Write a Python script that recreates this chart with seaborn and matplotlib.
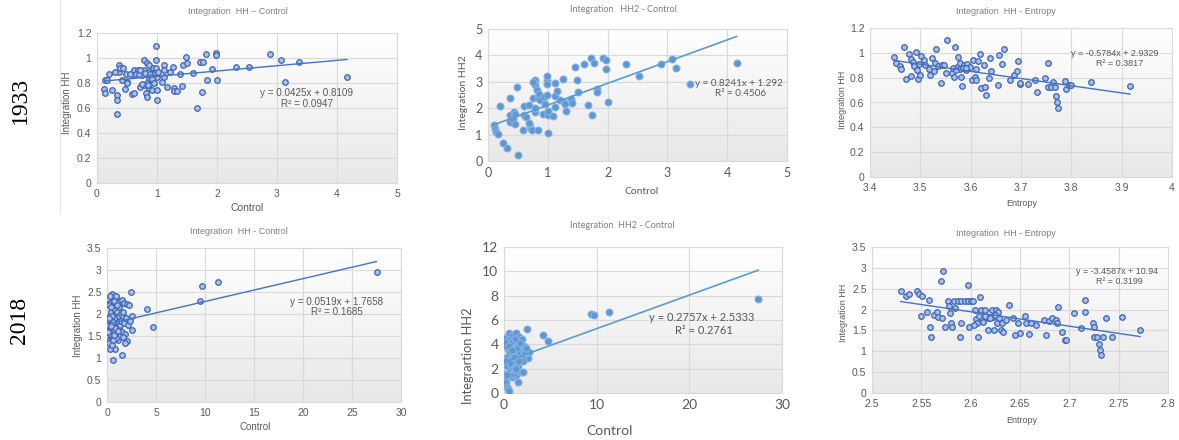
import numpy as np
import matplotlib
matplotlib.use("Agg")
import matplotlib.pyplot as plt
from matplotlib.colors import LinearSegmentedColormap
from matplotlib.ticker import FuncFormatter, MultipleLocator
import seaborn as sns

# ---------------- data ----------------
# 1933 : Integration HH vs Control
p1_control = [0.99, 0.13, 0.12, 0.13, 0.17, 0.20, 0.25, 0.33, 0.33, 0.34, 0.37, 0.37, 0.38, 0.42, 0.44,
              0.46, 0.49, 0.50, 0.59, 0.62, 0.61, 0.61, 0.69, 0.71, 0.75, 0.78, 0.79, 0.79, 0.82, 0.83,
              0.83, 0.86, 0.86, 0.86, 0.83, 0.86, 0.91, 0.94, 0.95, 0.99, 0.99, 1.00, 1.00, 1.00, 1.08,
              1.11, 1.11, 1.12, 1.16, 1.21, 1.27, 1.28, 1.29, 1.33, 1.38, 1.42, 1.44, 1.48, 1.50, 1.60,
              1.67, 1.72, 1.76, 1.75, 1.81, 1.84, 1.92, 1.99, 1.99, 2.00, 2.31, 2.53, 2.89, 3.07, 3.14,
              3.36, 4.17, 0.65, 0.70, 0.72, 0.80, 0.88, 0.90, 0.92, 0.95, 0.85, 0.75, 0.98, 1.02, 0.55,
              0.50, 0.30]
p1_hh = [1.098, 0.82, 0.75, 0.72, 0.825, 0.87, 0.74, 0.70, 0.66, 0.55, 0.945, 0.89, 0.92, 0.825, 0.92,
         0.75, 0.87, 0.81, 0.71, 0.72, 0.905, 0.865, 0.905, 0.77, 0.865, 0.905, 0.985, 0.785, 0.72, 0.685,
         0.96, 0.945, 0.89, 0.83, 0.80, 0.76, 0.74, 0.92, 0.88, 0.98, 0.90, 0.845, 0.745, 0.66, 0.81,
         0.945, 0.905, 0.845, 0.765, 0.885, 0.925, 0.76, 0.735, 0.735, 0.87, 0.775, 0.945, 1.01, 0.96, 0.88,
         0.60, 0.97, 0.97, 0.725, 1.035, 0.825, 0.91, 1.04, 1.02, 0.82, 0.925, 0.925, 1.035, 0.98, 0.805,
         0.965, 0.845, 0.87, 0.87, 0.90, 0.88, 0.87, 0.85, 0.83, 0.80, 0.78, 0.79, 0.92, 0.89, 0.87,
         0.80, 0.89]
p1_slope, p1_intercept = 0.0425, 0.8109

# 1933 : Integration HH2 vs Control
p2_control = [0.10, 0.11, 0.14, 0.16, 0.20, 0.25, 0.32, 0.36, 0.36, 0.36, 0.42, 0.44, 0.45, 0.45, 0.49,
              0.50, 0.58, 0.61, 0.61, 0.63, 0.69, 0.70, 0.72, 0.74, 0.69, 0.75, 0.78, 0.78, 0.75, 0.78,
              0.78, 0.82, 0.84, 0.85, 0.83, 0.87, 0.92, 0.93, 0.95, 0.98, 0.99, 0.99, 0.99, 1.00, 1.00,
              1.00, 1.09, 1.12, 1.12, 1.12, 1.16, 1.20, 1.26, 1.27, 1.29, 1.31, 1.39, 1.41, 1.46, 1.48,
              1.50, 1.60, 1.67, 1.72, 1.74, 1.77, 1.82, 1.83, 1.93, 1.98, 1.98, 2.00, 2.31, 2.52, 2.89,
              3.07, 3.14, 3.37, 4.16]
p2_hh2 = [1.38, 1.23, 1.10, 1.04, 2.09, 0.70, 0.51, 2.40, 1.76, 1.48, 1.59, 1.87, 1.78, 1.40, 2.79,
          0.22, 1.17, 2.08, 1.74, 1.68, 2.14, 1.32, 1.23, 1.17, 1.45, 2.38, 3.05, 2.88, 3.00, 1.87,
          2.00, 2.69, 2.40, 2.55, 1.17, 2.30, 1.78, 2.44, 2.16, 3.07, 3.22, 2.92, 2.50, 1.74, 1.90,
          1.07, 1.70, 2.95, 2.47, 2.03, 2.65, 2.31, 3.11, 2.25, 2.16, 1.90, 2.34, 2.21, 3.55, 3.05,
          2.60, 3.67, 2.12, 3.90, 1.73, 3.71, 2.73, 2.60, 3.90, 3.83, 3.49, 2.22, 3.67, 3.22, 3.67,
          3.87, 3.54, 2.92, 3.70]
p2_slope, p2_intercept = 0.8241, 1.292

# 1933 : Integration HH vs Entropy
p3_entropy = [3.448, 3.452, 3.460, 3.461, 3.468, 3.471, 3.478, 3.481, 3.482, 3.485, 3.488, 3.491, 3.493,
              3.496, 3.497, 3.499, 3.501, 3.507, 3.509, 3.517, 3.519, 3.523, 3.528, 3.530, 3.532, 3.535,
              3.542, 3.543, 3.548, 3.550, 3.553, 3.563, 3.566, 3.569, 3.572, 3.575, 3.578, 3.579, 3.581,
              3.583, 3.586, 3.591, 3.593, 3.599, 3.602, 3.604, 3.609, 3.611, 3.614, 3.619, 3.621, 3.627,
              3.629, 3.631, 3.636, 3.638, 3.641, 3.654, 3.657, 3.663, 3.666, 3.678, 3.687, 3.692, 3.694,
              3.698, 3.699, 3.713, 3.727, 3.731, 3.747, 3.753, 3.754, 3.759, 3.764, 3.768, 3.769, 3.771,
              3.774, 3.787, 3.790, 3.796, 3.800, 3.839, 3.917, 3.565, 3.570, 3.585, 3.590, 3.610]
p3_hh = [0.970, 0.920, 0.890, 0.870, 1.044, 0.790, 0.990, 0.950, 0.810, 0.930, 0.890, 1.010, 0.860,
         0.790, 0.910, 0.820, 0.976, 0.940, 0.900, 0.870, 0.820, 0.957, 0.855, 0.917, 1.033, 0.895,
         0.755, 0.903, 0.903, 0.840, 1.100, 0.840, 0.804, 1.044, 0.885, 0.970, 0.917, 0.868, 0.804,
         0.736, 0.903, 0.863, 0.909, 0.882, 0.782, 0.939, 0.809, 0.782, 0.936, 0.990, 0.715, 0.898,
         0.723, 0.661, 0.800, 0.957, 0.850, 0.742, 0.984, 0.909, 1.030, 0.782, 0.823, 0.850, 0.936,
         0.750, 0.760, 0.750, 0.782, 0.688, 0.800, 0.917, 0.723, 0.723, 0.769, 0.723, 0.655, 0.601,
         0.553, 0.774, 0.707, 0.742, 0.742, 0.769, 0.736, 0.880, 0.860, 0.880, 0.880, 0.870]
p3_slope, p3_intercept = -0.5784, 2.9329

# 2018 : Integration HH vs Control
p4_control = [27.5, 9.73, 11.3, 9.46, 4.05, 4.73, 2.47, 2.57, 2.53, 2.03, 1.80, 1.52, 0.57, 0.84, 0.34,
              0.10, 0.20, 0.25, 0.30, 0.30, 0.35, 0.40, 0.40, 0.45, 0.50, 0.50, 0.55, 0.60, 0.60, 0.65,
              0.70, 0.70, 0.75, 0.80, 0.80, 0.85, 0.90, 0.90, 0.95, 1.00, 1.00, 1.05, 1.10, 1.10, 1.15,
              1.20, 1.20, 1.25, 1.30, 1.30, 1.35, 1.40, 1.45, 1.50, 1.50, 1.60, 1.65, 1.70, 1.75, 1.80,
              1.90, 2.00, 2.10, 2.20, 2.30, 0.15, 0.20, 0.25, 0.30, 0.35, 0.45, 0.55, 0.65, 0.75, 0.85,
              0.95, 1.05, 0.20, 0.15, 0.50, 0.60, 0.70, 1.15, 1.60, 0.40]
p4_hh = [2.95, 2.63, 2.72, 2.29, 2.11, 1.71, 2.49, 1.96, 1.64, 1.39, 1.33, 1.07, 0.95, 1.20, 1.20,
         2.35, 1.42, 1.78, 2.25, 1.95, 1.65, 1.50, 2.05, 1.38, 2.45, 1.85, 1.58, 2.20, 1.72, 1.45,
         2.35, 1.95, 1.62, 2.10, 1.80, 1.50, 2.42, 2.22, 1.90, 1.70, 2.05, 1.55, 2.25, 1.82, 1.40,
         2.15, 1.95, 1.65, 2.30, 1.75, 1.50, 2.00, 1.85, 2.32, 1.60, 1.95, 2.05, 1.80, 2.25, 1.55,
         1.90, 2.22, 1.75, 2.20, 1.85, 1.75, 2.20, 1.35, 1.55, 2.40, 2.15, 1.95, 1.82, 2.30, 1.68,
         1.45, 2.20, 1.90, 1.60, 1.30, 1.40, 1.52, 1.62, 1.48, 1.72]
p4_slope, p4_intercept = 0.0519, 1.7658

# 2018 : Integration HH2 vs Control
p5_control = [27.45, 9.35, 9.75, 11.33, 4.17, 4.78, 2.45, 2.63, 2.73,
              0.10, 0.15, 0.20, 0.25, 0.30, 0.40, 0.50, 0.35, 0.30, 0.40, 0.45, 0.50, 0.55, 0.60, 0.60,
              0.70, 0.75, 0.80, 0.85, 0.90, 0.95, 1.00, 1.05, 1.10, 1.15, 1.20, 1.25, 1.30, 1.35, 1.40,
              1.50, 1.50, 1.60, 1.65, 1.70, 1.80, 1.85, 1.90, 2.00, 2.10, 2.20, 2.30, 0.20, 0.25, 0.65,
              0.85, 1.00, 1.10, 1.45, 2.00, 0.15, 0.55, 0.70, 1.20, 1.75, 0.35, 0.90, 1.30, 1.60, 2.40]
p5_hh2 = [7.70, 6.50, 6.45, 6.64, 4.77, 4.30, 5.30, 2.84, 3.39,
          4.50, 1.60, 1.10, 0.80, 0.50, 0.30, 0.20, 2.20, 3.00, 3.60, 4.10, 4.90, 2.60, 1.80, 3.30,
          4.40, 2.20, 3.80, 1.30, 2.80, 4.80, 3.20, 2.00, 4.20, 3.60, 2.50, 4.90, 1.50, 3.00, 4.00,
          2.20, 0.90, 3.40, 4.60, 2.80, 1.70, 3.80, 4.40, 3.10, 2.60, 3.90, 3.40, 2.60, 3.90, 2.50,
          4.20, 1.60, 3.00, 3.70, 1.70, 4.20, 3.90, 1.50, 4.40, 4.10, 1.50, 3.50, 2.00, 2.60, 3.70]
p5_slope, p5_intercept = 0.2757, 2.5333

# 2018 : Integration HH vs Entropy
p6_entropy = [2.529, 2.534, 2.538, 2.546, 2.548, 2.551, 2.550, 2.556, 2.558, 2.559, 2.560, 2.563, 2.566,
              2.567, 2.570, 2.572, 2.571, 2.574, 2.577, 2.578, 2.579, 2.580, 2.581, 2.583, 2.587, 2.590,
              2.594, 2.597, 2.600, 2.602, 2.584, 2.589, 2.590, 2.597, 2.598, 2.604, 2.605, 2.606, 2.607,
              2.609, 2.610, 2.611, 2.613, 2.615, 2.618, 2.618, 2.622, 2.623, 2.624, 2.626, 2.627, 2.628,
              2.629, 2.631, 2.632, 2.633, 2.639, 2.643, 2.645, 2.648, 2.650, 2.655, 2.656, 2.659, 2.661,
              2.666, 2.674, 2.676, 2.679, 2.682, 2.686, 2.687, 2.689, 2.693, 2.696, 2.697, 2.705, 2.712,
              2.716, 2.716, 2.724, 2.725, 2.725, 2.728, 2.730, 2.731, 2.732, 2.734, 2.737, 2.743, 2.753,
              2.772, 2.615, 2.620, 2.625, 2.608, 2.636, 2.603]
p6_hh = [2.44, 2.32, 2.37, 2.45, 2.37, 2.32, 1.85, 1.93, 2.23, 1.59, 1.34, 1.88, 1.93,
         1.83, 2.68, 2.93, 1.79, 1.59, 2.20, 2.09, 1.91, 1.67, 1.59, 2.20, 2.20, 2.20,
         2.20, 2.20, 2.20, 2.20, 2.03, 1.35, 1.67, 2.60, 1.59, 2.00, 1.77, 1.67, 1.35,
         2.29, 2.00, 1.77, 1.71, 2.00, 1.79, 1.50, 2.00, 1.81, 1.51, 2.00, 1.67, 1.95,
         1.79, 1.51, 1.69, 1.47, 2.11, 1.79, 1.39, 1.67, 1.43, 1.85, 1.67, 1.41, 1.67,
         1.62, 1.75, 1.39, 1.73, 1.79, 1.75, 1.67, 2.07, 1.47, 1.27, 1.26, 1.91, 1.57,
         2.23, 1.95, 1.67, 1.59, 1.35, 1.35, 1.18, 1.03, 0.91, 1.35, 1.79, 1.35, 1.81,
         1.51, 1.85, 1.80, 1.88, 1.85, 1.75, 1.62]
p6_slope, p6_intercept = -3.4587, 10.94

# ---------------- styling ----------------
sns.set_theme(style="white")
plt.rcParams['font.family'] = ['Liberation Sans', 'DejaVu Sans']

W, H = 1179, 440
fig = plt.figure(figsize=(W / 100, H / 100), dpi=100)
fig.patch.set_facecolor("white")

GRID = "#d9d9d9"
TICKC = "#595959"
grad_cmap = LinearSegmentedColormap.from_list("g", ["#e8e8e8", "#ffffff"])


def px_axes(x0, x1, ytop, ybot):
    return fig.add_axes([x0 / W, 1 - ybot / H, (x1 - x0) / W, (ybot - ytop) / H])


def ftext(x, y, s, **kw):
    fig.text(x / W, 1 - y / H, s, ha="center", va="center", **kw)


def fmt(v, pos):
    return "{:g}".format(round(v, 4))


def panel(ax, xs, ys, slope, icpt, xlim, ylim, xstep, ystep, style, tick_fs, family):
    g = np.linspace(0, 1, 256).reshape(-1, 1)
    ax.imshow(g, extent=[0, 1, 0, 1], transform=ax.transAxes, cmap=grad_cmap,
              origin="lower", aspect="auto", zorder=0)
    if style == "excel":
        sns.scatterplot(x=xs, y=ys, ax=ax, s=16, color="#a9c0ea", edgecolor="#3d63b3",
                        linewidth=0.9, zorder=3)
        lc, lw = "#4472c4", 1.0
    else:
        sns.scatterplot(x=xs, y=ys, ax=ax, s=26, color="#5f97d3", edgecolor="#8db6e3",
                        linewidth=0.7, zorder=3)
        lc, lw = "#5b9bd5", 1.2
    xl = np.array([min(xs), max(xs)])
    sns.lineplot(x=xl, y=slope * xl + icpt, ax=ax, color=lc, linewidth=lw, zorder=4)
    ax.set_xlim(*xlim)
    ax.set_ylim(*ylim)
    ax.xaxis.set_major_locator(MultipleLocator(xstep))
    ax.yaxis.set_major_locator(MultipleLocator(ystep))
    ax.xaxis.set_major_formatter(FuncFormatter(fmt))
    ax.yaxis.set_major_formatter(FuncFormatter(fmt))
    ax.grid(True, color=GRID, linewidth=0.8, zorder=1)
    ax.set_axisbelow(True)
    for sp in ax.spines.values():
        sp.set_color(GRID)
        sp.set_linewidth(0.8)
    ax.tick_params(length=0, labelsize=tick_fs, colors=TICKC, pad=4)
    for lab in ax.get_xticklabels() + ax.get_yticklabels():
        lab.set_family(family)
    ax.set_xlabel("")
    ax.set_ylabel("")


ARIAL = ['Liberation Sans', 'DejaVu Sans']
CALIBRI = ['Lato', 'DejaVu Sans']

# Panel 1
ax1 = px_axes(97, 397, 33, 183)
panel(ax1, p1_control, p1_hh, p1_slope, p1_intercept, (0, 5), (0, 1.2), 1, 0.2, "excel", 7.5, ARIAL)
ftext(238, 11, "Integration  HH \u2013 Control", fontsize=6.5, color="#7f7f7f", family=ARIAL)
ftext(247, 208, "Control", fontsize=7.5, color=TICKC, family=ARIAL)
ftext(67, 103, "Integration HH", fontsize=7, color=TICKC, rotation=90, family=ARIAL)
ftext(307, 93, "y = 0.0425x + 0.8109", fontsize=7.1, color=TICKC, family=ARIAL)
ftext(307, 104, "R\u00b2 = 0.0947", fontsize=7.1, color=TICKC, family=ARIAL)
fig.add_artist(plt.Line2D([60 / W, 60 / W], [1 - 213 / H, 1.0], color="#e4e4e4", linewidth=0.8))

# Panel 2
ax2 = px_axes(488, 787, 29, 161)
panel(ax2, p2_control, p2_hh2, p2_slope, p2_intercept, (0, 5), (0, 5), 1, 1, "office", 9, CALIBRI)
ftext(623, 10, "Integration   HH2 - Control", fontsize=6.5, color="#7f7f7f", family=CALIBRI)
ftext(642, 192, "Control", fontsize=7.5, color=TICKC, family=CALIBRI)
ftext(463, 93, "Integration HH2", fontsize=7.5, color=TICKC, rotation=90, family=CALIBRI)
ftext(739, 83, "y = 0.8241x + 1.292", fontsize=7.1, color=TICKC, family=CALIBRI)
ftext(741, 94, "R\u00b2 = 0.4506", fontsize=7.1, color=TICKC, family=CALIBRI)

# Panel 3
ax3 = px_axes(870, 1172, 28, 177)
panel(ax3, p3_entropy, p3_hh, p3_slope, p3_intercept, (3.4, 4), (0, 1.2), 0.1, 0.2, "excel", 7.5, ARIAL)
ftext(1006, 12, "Integration  HH - Entropy", fontsize=6.5, color="#7f7f7f", family=ARIAL)
ftext(1022, 203, "Entropy", fontsize=6.5, color=TICKC, family=ARIAL)
ftext(842, 100, "Integration HH", fontsize=6.5, color=TICKC, rotation=90, family=ARIAL)
ftext(1115, 53, "y = -0.5784x + 2.9329", fontsize=6.5, color=TICKC, family=ARIAL)
ftext(1120, 63, "R\u00b2 = 0.3817", fontsize=6.5, color=TICKC, family=ARIAL)

# Panel 4
ax4 = px_axes(107, 401, 248, 402)
panel(ax4, p4_control, p4_hh, p4_slope, p4_intercept, (0, 30), (0, 3.5), 5, 0.5, "excel", 7.5, ARIAL)
ftext(239, 231, "Integration  HH - Control", fontsize=6.5, color="#7f7f7f", family=ARIAL)
ftext(255, 427, "Control", fontsize=7, color=TICKC, family=ARIAL)
ftext(78, 326, "Integration HH", fontsize=7, color=TICKC, rotation=90, family=ARIAL)
ftext(337, 302, "y = 0.0519x + 1.7658", fontsize=7.1, color=TICKC, family=ARIAL)
ftext(337, 312, "R\u00b2 = 0.1685", fontsize=7.1, color=TICKC, family=ARIAL)

# Panel 5
ax5 = px_axes(504, 782, 247, 393)
panel(ax5, p5_control, p5_hh2, p5_slope, p5_intercept, (0, 30), (0, 12), 10, 2, "office", 10, CALIBRI)
ftext(622, 225, "Integration  HH2 - Control", fontsize=6.5, color="#7f7f7f", family=CALIBRI)
ftext(610, 431, "Control", fontsize=10, color=TICKC, family=CALIBRI)
ftext(468, 356, "Integrartion HH2", fontsize=9.3, color=TICKC, rotation=90, family=CALIBRI)
ftext(702, 317, "y = 0.2757x + 2.5333", fontsize=8, color=TICKC, family=CALIBRI)
ftext(704, 330, "R\u00b2 = 0.2761", fontsize=8, color=TICKC, family=CALIBRI)

# Panel 6
ax6 = px_axes(872, 1168, 247, 393)
panel(ax6, p6_entropy, p6_hh, p6_slope, p6_intercept, (2.5, 2.8), (0, 3.5), 0.05, 0.5, "excel", 7.5, ARIAL)
ftext(1006, 233, "Integration  HH - Entropy", fontsize=6.5, color="#7f7f7f", family=ARIAL)
ftext(1022, 420, "Entropy", fontsize=6.5, color=TICKC, family=ARIAL)
ftext(843, 313, "Integration HH", fontsize=6.5, color=TICKC, rotation=90, family=ARIAL)
ftext(1117, 271, "y = -3.4587x + 10.94", fontsize=6.4, color=TICKC, family=ARIAL)
ftext(1119, 281, "R\u00b2 = 0.3199", fontsize=6.4, color=TICKC, family=ARIAL)

# Year labels
ftext(20, 100, "1933", fontsize=17, color="black", rotation=90, family=['Liberation Serif', 'DejaVu Serif'])
ftext(20, 320, "2018", fontsize=17, color="black", rotation=90, family=['Liberation Serif', 'DejaVu Serif'])

fig.savefig("out.png", dpi=100, facecolor="white")
